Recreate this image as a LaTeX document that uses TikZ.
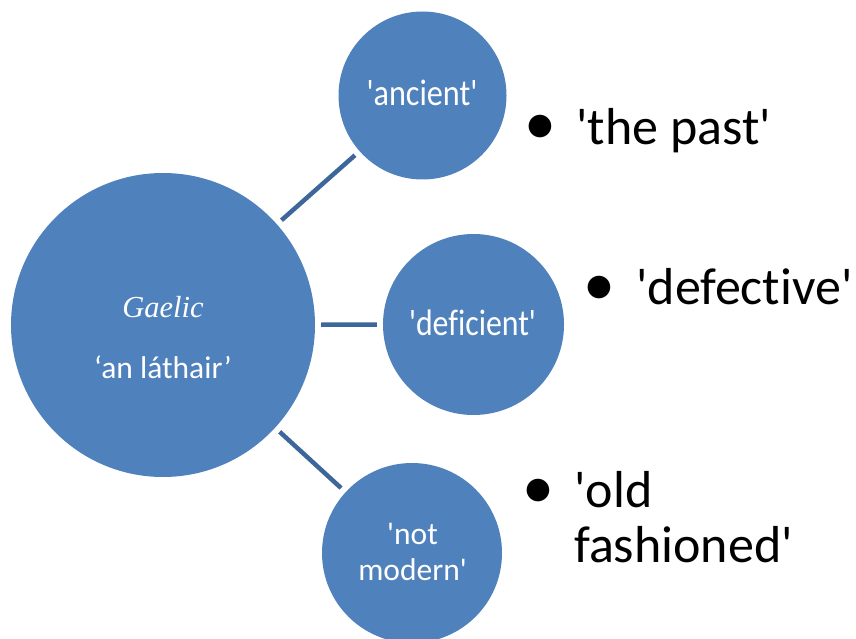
\documentclass[tikz,border=0pt]{standalone}
\usepackage{fontspec}
\usepackage{graphicx}
\setmainfont{Carlito}[Ligatures={NoCommon}]
\newfontfamily\serifit{Liberation Serif}
\definecolor{bubblec}{HTML}{4F81BD}
\definecolor{linkc}{HTML}{3D679A}
\newcommand\sq{\textquotesingle}
\begin{document}
\begin{tikzpicture}[x=1pt,y=-1pt,
  bubble/.style={circle, fill=bubblec, draw=none, inner sep=0pt, minimum size=#1},
  lbl/.style={text=white, anchor=base, inner sep=0pt},
  linkline/.style={draw=linkc, line width=4.5pt, shorten <=6pt, shorten >=6pt},
  bul/.style={inner sep=0pt, anchor=center, font=\fontsize{64}{64}\selectfont},
  item/.style={inner sep=0pt, anchor=base west, font=\fontsize{52}{55}\selectfont}]
\useasboundingbox (0,0) rectangle (856,639);
\node[bubble=304pt] (big) at (163,325) {};
\node[bubble=168pt] (anc) at (422.5,95.5) {};
\node[bubble=181pt] (def) at (473.5,324.5) {};
\node[bubble=180pt] (mod) at (412,553) {};
\draw[linkline] (big) -- (anc);
\draw[linkline] (big) -- (def);
\draw[linkline] (big) -- (mod);
\node[lbl, font=\serifit\itshape\fontsize{30.5}{30}\selectfont] (tg) at (163,317) {Gaelic};
\node[lbl, font=\fontsize{31.5}{30}\selectfont] (tl) at (163,378) {‘an láthair’};
\node[lbl] (ta) at (422,106) {\scalebox{0.87}[1]{\fontsize{37}{37}\selectfont\sq ancient\sq}};
\node[lbl] (td) at (472.5,335) {\scalebox{0.86}[1]{\fontsize{37}{37}\selectfont\sq deficient\sq}};
\node[lbl, font=\fontsize{31.5}{36}\selectfont] (tm) at (412.5,544) {\begin{tabular}[t]{@{}c@{}}\sq not\\modern\sq\end{tabular}};
\node[bul] (b1) at (540,130) {•};
\node[item] (i1) at (576,145) {\sq the past\sq};
\node[bul] (b2) at (599,291) {•};
\node[item] (i2) at (636,304) {\sq defective\sq};
\node[bul] (b3) at (538,494) {•};
\node[item] (i3) at (574,507) {\begin{tabular}[t]{@{}l@{}}\sq old\\fashioned\sq\end{tabular}};
\end{tikzpicture}
\end{document}
